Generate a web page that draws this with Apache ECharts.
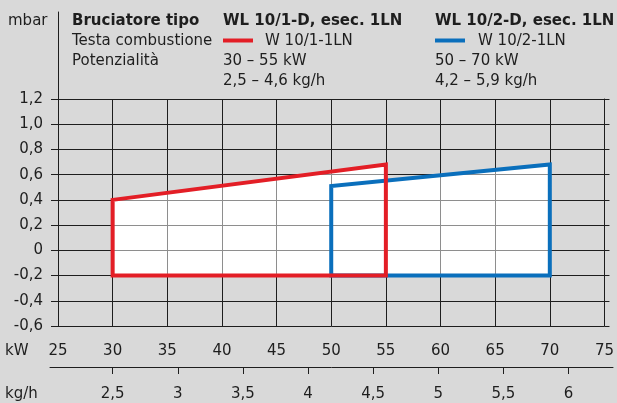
<!DOCTYPE html>
<html><head><meta charset="utf-8">
<script src="https://cdn.jsdelivr.net/npm/echarts@6/dist/echarts.min.js"></script>
<style>html,body{margin:0;padding:0;background:#d9d9d9}#c{width:617px;height:403px}</style>
</head><body><div id="c"></div>
<script>
// ---- data ----
const kwTicks = [25, 30, 35, 40, 45, 50, 55, 60, 65, 70, 75];
const kgTicks = [2.5, 3, 3.5, 4, 4.5, 5, 5.5, 6];
const mbarTicks = [-0.6, -0.4, -0.2, 0, 0.2, 0.4, 0.6, 0.8, 1.0, 1.2];
const redKW   = [30, 30, 55, 55, 30];
const redMbar = [-0.2, 0.4, 0.68, -0.2, -0.2];
const blueKW   = [50, 50, 70, 70, 50];
const blueMbar = [-0.2, 0.51, 0.68, -0.2, -0.2];
// kg/h scale range aligned with the kW axis
const KG_MIN = 2.019, KG_MAX = 6.342;

const RED = '#e31e26', BLUE = '#0a6fbc', GRID = '#1e1e1e', TXT = '#1e1e1e';
const FONT = '"DejaVu Sans", sans-serif';
const FS = 15;

// union outline of both fields (for the white fill)
const blueTopAt = kw => blueMbar[1] + (blueMbar[2] - blueMbar[1]) * (kw - blueKW[1]) / (blueKW[2] - blueKW[1]);
const fillKW   = [redKW[0], redKW[1], redKW[2], redKW[2], blueKW[2], blueKW[3]];
const fillMbar = [redMbar[0], redMbar[1], redMbar[2], blueTopAt(redKW[2]), blueMbar[2], blueMbar[3]];

const pair = (xs, ys) => xs.map((x, i) => [x, ys[i]]);
const fmt = v => (Math.abs(v) < 1e-9 ? '0' : (+v).toFixed(1).replace('.', ','));
const fmtKg = v => String(v).replace('.', ',');

const chart = echarts.init(document.getElementById('c'), null, {renderer: 'canvas'});
const txt = (text, x, y, bold) => ({type: 'text', style: {text, x, y, font: (bold ? 'bold ' : '') + FS + 'px ' + FONT, fill: TXT, verticalAlign: 'middle'}});

chart.setOption({
  backgroundColor: '#d9d9d9',
  animation: false,
  grid: [
    {left: 58, right: 9, top: 99, bottom: 77},
    {left: 58, right: 9, top: 12, height: 87},
    {left: 50, right: 4, top: 366, height: 1}
  ],
  xAxis: [
    {gridIndex: 0, type: 'value', min: 25, max: 75, interval: 5,
     axisLine: {show: true, lineStyle: {color: GRID, width: 1}},
     axisTick: {show: true, length: 6, lineStyle: {color: GRID}},
     axisLabel: {margin: 18, color: TXT, fontSize: FS, fontFamily: FONT},
     splitLine: {show: true, lineStyle: {color: GRID, width: 1}}},
    {gridIndex: 1, type: 'value', min: 0, max: 1, show: false},
    {gridIndex: 2, type: 'value', min: KG_MIN, max: KG_MAX, position: 'bottom',
     axisLine: {show: true, lineStyle: {color: GRID, width: 1}},
     axisTick: {show: true, length: 7, customValues: kgTicks, lineStyle: {color: GRID}},
     axisLabel: {show: true, customValues: kgTicks, formatter: fmtKg, margin: 20, color: TXT, fontSize: FS, fontFamily: FONT},
     splitLine: {show: false}}
  ],
  yAxis: [
    {gridIndex: 0, type: 'value', min: -0.6, max: 1.2, interval: 0.2,
     axisLine: {show: true, lineStyle: {color: GRID, width: 1}},
     axisTick: {show: true, length: 7, lineStyle: {color: GRID}},
     axisLabel: {margin: 15, color: TXT, fontSize: FS, fontFamily: FONT, formatter: fmt},
     splitLine: {show: true, lineStyle: {color: GRID, width: 1}}},
    {gridIndex: 0, type: 'value', min: -0.6, max: 1.2, interval: 0.2, position: 'right',
     axisLine: {show: true, lineStyle: {color: GRID, width: 1}},
     axisTick: {show: true, length: 5, lineStyle: {color: GRID}},
     axisLabel: {show: false}, splitLine: {show: false}},
    {gridIndex: 1, type: 'value', min: 0, max: 1,
     axisLine: {show: true, lineStyle: {color: GRID, width: 1}},
     axisTick: {show: false}, axisLabel: {show: false}, splitLine: {show: false}},
    {gridIndex: 2, type: 'value', min: 0, max: 1, show: false}
  ],
  series: [
    {type: 'custom', xAxisIndex: 0, yAxisIndex: 0, z: 1, blendMode: 'lighter',
     data: [[fillKW[0], fillMbar[0]]],
     renderItem: (params, api) => ({
       type: 'polygon',
       shape: {points: fillKW.map((x, i) => api.coord([x, fillMbar[i]]))},
       style: {fill: 'rgb(112,112,112)'}
     })},
    {type: 'line', xAxisIndex: 0, yAxisIndex: 0, z: 3, data: pair(blueKW, blueMbar),
     showSymbol: false, symbol: 'none',
     lineStyle: {color: BLUE, width: 4, join: 'miter', cap: 'square'}},
    {type: 'line', xAxisIndex: 0, yAxisIndex: 0, z: 4, data: pair(redKW, redMbar),
     showSymbol: false, symbol: 'none',
     lineStyle: {color: RED, width: 4, join: 'miter', cap: 'square'}}
  ],
  graphic: [
    txt('mbar', 8, 21),
    txt('Bruciatore tipo', 72, 21, true),
    txt('Testa combustione', 72, 41),
    txt('Potenzialità', 72, 61),
    txt('WL 10/1-D, esec. 1LN', 223, 21, true),
    {type: 'rect', shape: {x: 223, y: 38.5, width: 30, height: 4}, style: {fill: RED}},
    txt('W 10/1-1LN', 265, 41),
    txt('30 – 55 kW', 223, 61),
    txt('2,5 – 4,6 kg/h', 223, 81),
    txt('WL 10/2-D, esec. 1LN', 435, 21, true),
    {type: 'rect', shape: {x: 435, y: 38.5, width: 30, height: 4}, style: {fill: BLUE}},
    txt('W 10/2-1LN', 478, 41),
    txt('50 – 70 kW', 435, 61),
    txt('4,2 – 5,9 kg/h', 435, 81),
    txt('kW', 5, 351),
    txt('kg/h', 5, 394)
  ]
});
</script></body></html>
